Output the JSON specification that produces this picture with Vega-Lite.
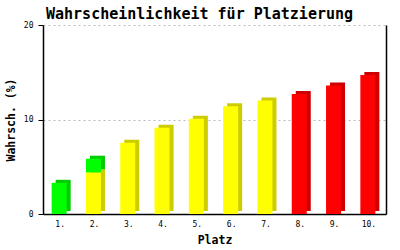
{
  "$schema": "https://vega.github.io/schema/vega-lite/v6.json",
  "width": 343,
  "height": 189,
  "autosize": "none",
  "padding": {"left": 43, "top": 25, "right": 14, "bottom": 36},
  "background": "white",
  "title": {"text": "Wahrscheinlichkeit für Platzierung", "font": "DejaVu Sans Mono", "fontSize": 15, "fontWeight": "bold", "color": "black", "dx": -15, "offset": 0, "dy": 1},
  "config": {"view": {"stroke": null}},
  "data": {"values": [
    {"platz": "1.", "teil": 1, "gruppe": "grün", "wert": 3.3},
    {"platz": "2.", "teil": 1, "gruppe": "gelb", "wert": 4.4},
    {"platz": "2.", "teil": 2, "gruppe": "grün", "wert": 1.45},
    {"platz": "3.", "teil": 1, "gruppe": "gelb", "wert": 7.55},
    {"platz": "4.", "teil": 1, "gruppe": "gelb", "wert": 9.13},
    {"platz": "5.", "teil": 1, "gruppe": "gelb", "wert": 10.08},
    {"platz": "6.", "teil": 1, "gruppe": "gelb", "wert": 11.4},
    {"platz": "7.", "teil": 1, "gruppe": "gelb", "wert": 12.0},
    {"platz": "8.", "teil": 1, "gruppe": "rot", "wert": 12.7},
    {"platz": "9.", "teil": 1, "gruppe": "rot", "wert": 13.6},
    {"platz": "10.", "teil": 1, "gruppe": "rot", "wert": 14.7}
  ]},
  "encoding": {
    "x": {"field": "platz", "type": "ordinal", "sort": null,
      "scale": {"paddingInner": 0, "paddingOuter": 0},
      "axis": {"title": "Platz", "titleFont": "DejaVu Sans Mono", "titleFontSize": 11.5, "titleFontWeight": "bold", "titleColor": "black", "titlePadding": 6,
        "labelFont": "DejaVu Sans Mono", "labelFontSize": 8, "labelColor": "black", "labelAngle": 0, "labelPadding": 6,
        "ticks": false, "domainColor": "black", "domainWidth": 1.5, "grid": false}},
    "order": {"field": "teil", "type": "quantitative"}
  },
  "layer": [
    {
      "mark": {"type": "bar", "width": 15, "xOffset": 3, "yOffset": -3},
      "encoding": {
        "y": {"field": "wert", "type": "quantitative", "stack": "zero", "scale": {"domain": [0, 20]},
          "axis": {"values": [0, 10, 20], "title": "Wahrsch. (%)", "titleFont": "DejaVu Sans Mono", "titleFontSize": 11.5, "titleFontWeight": "bold", "titleColor": "black", "titlePadding": 7,
            "labelFont": "DejaVu Sans Mono", "labelFontSize": 8, "labelColor": "black", "labelPadding": 5,
            "tickSize": 5, "tickColor": "black", "domainColor": "black", "domainWidth": 1.5,
            "grid": true, "gridColor": "#bbbbbb", "gridDash": [2, 3]}},
        "color": {"field": "gruppe", "type": "nominal", "legend": null,
          "scale": {"domain": ["grün", "gelb", "rot"], "range": ["#00cc00", "#cccc00", "#cc0000"]}}
      }
    },
    {
      "mark": {"type": "bar", "width": 15, "xOffset": -1},
      "encoding": {
        "y": {"field": "wert", "type": "quantitative", "stack": "zero", "scale": {"domain": [0, 20]},
          "axis": {"orient": "right", "labels": false, "ticks": false, "grid": false, "title": null, "domainColor": "black", "domainWidth": 1.5}},
        "color": {"field": "gruppe", "type": "nominal", "legend": null,
          "scale": {"domain": ["grün", "gelb", "rot"], "range": ["#00ff00", "#ffff00", "#ff0000"]}}
      }
    }
  ],
  "resolve": {"scale": {"color": "independent"}, "axis": {"y": "independent"}}
}
